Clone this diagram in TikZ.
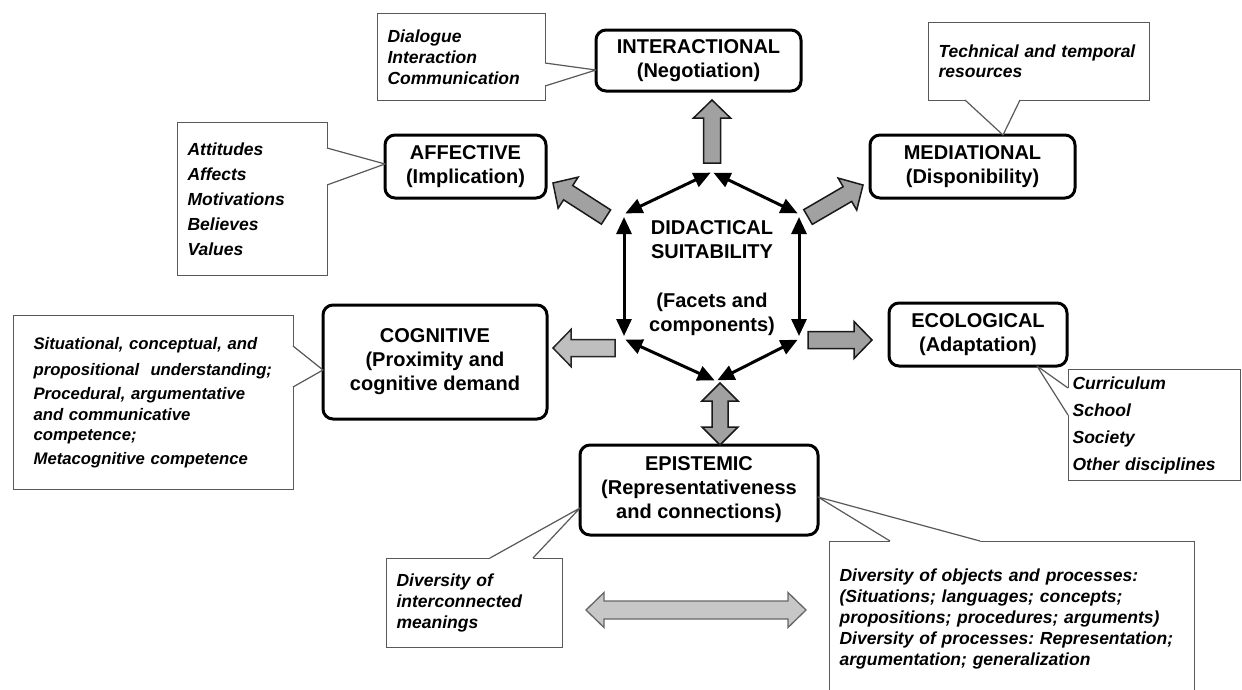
\documentclass[tikz,border=0pt]{standalone}
\usepackage{fontspec}
\setmainfont{Liberation Sans}
\usetikzlibrary{arrows.meta,calc}
\newcommand\blockarrow[4]{% tail coordinate, angle, length, style
  \begin{scope}[shift={(#1)},rotate=#2]
    \draw[#4] (0,-8.5) -- ({#3-18},-8.5) -- ({#3-18},-18.5) -- (#3,0) -- ({#3-18},18.5) -- ({#3-18},8.5) -- (0,8.5) -- cycle;
  \end{scope}}
\newcommand\dblblockarrow[6]{% centre coordinate, angle, half length, shaft half, head half, style
  \begin{scope}[shift={(#1)},rotate=#2]
    \draw[#6] (-#3,0) -- ({-#3+18},-#5) -- ({-#3+18},-#4) -- ({#3-18},-#4) -- ({#3-18},-#5) -- (#3,0) -- ({#3-18},#5) -- ({#3-18},#4) -- ({-#3+18},#4) -- ({-#3+18},#5) -- cycle;
  \end{scope}}
\newcommand\callptr[4]{% base1, tip, base2, inward shift
  \fill[white] ($(#1)+#4$) -- (#1) -- (#2) -- (#3) -- ($(#3)+#4$) -- cycle;
  \draw[noteline] (#1) -- (#2) -- (#3);}
\begin{document}
\begin{tikzpicture}[x=1pt,y=-1pt,
  facet/.style={draw=black, line width=3pt, rounded corners=10pt, fill=white,
    font=\fontsize{20}{24}\selectfont\bfseries, align=center, inner sep=0pt},
  note/.style={draw=black!65, line width=1.2pt, fill=white, anchor=north west,
    align=left, inner ysep=0pt},
  notefont/.style={font=\fontsize{17.5}{#1}\selectfont\bfseries\itshape\frenchspacing},
  noteline/.style={draw=black!65, line width=1.2pt, line join=round},
  hexarrow/.style={line width=3pt,
    {Triangle[length=17pt,width=15pt]}-{Triangle[length=17pt,width=15pt]},
    shorten <=1.5pt, shorten >=1.5pt},
  darkarrow/.style={draw=black!90, line width=1.5pt, fill=black!37, line join=miter},
  lightarrow/.style={draw=black!85, line width=1.5pt, fill=black!25, line join=miter},
  paleArrow/.style={draw=black!60, line width=1.3pt, fill=black!22, line join=miter},
]
\useasboundingbox (0,0) rectangle (1242,689);
\fill[white] (0,0) rectangle (1242,689);
\clip (0,0) rectangle (1242,689);

% ---------- facet boxes ----------
\node[facet, minimum width=205pt, minimum height=61pt] (inter) at (698.5,60.5) {INTERACTIONAL\\(Negotiation)};
\node[facet, minimum width=161pt, minimum height=63pt] (affect) at (465.5,166.5) {AFFECTIVE\\(Implication)};
\node[facet, minimum width=205pt, minimum height=63pt] (media) at (972.5,166.5) {MEDIATIONAL\\(Disponibility)};
\node[facet, minimum width=224pt, minimum height=114pt] (cogn) at (435,362) {COGNITIVE\\(Proximity and\\cognitive demand};
\node[facet, minimum width=178pt, minimum height=63pt] (ecol) at (978,334.5) {ECOLOGICAL\\(Adaptation)};
\node[facet, minimum width=238pt, minimum height=90pt] (epist) at (699,490) {EPISTEMIC\\(Representativeness\\and connections)};

% ---------- centre ----------
\node[font=\fontsize{20}{23.5}\selectfont\bfseries, align=center] (didact) at (712,278)
  {DIDACTICAL\\SUITABILITY\\[26pt](Facets and\\components)};
\coordinate (hT) at (712,172);
\coordinate (hUL) at (624,214);
\coordinate (hUR) at (799,214);
\coordinate (hLL) at (624,339);
\coordinate (hLR) at (799,339);
\coordinate (hB) at (716,381);
\draw[hexarrow] (hUL) -- (hT);
\draw[hexarrow] (hT) -- (hUR);
\draw[hexarrow, shorten <=3pt, shorten >=3pt] (hUR) -- (hLR);
\draw[hexarrow] (hLR) -- (hB);
\draw[hexarrow] (hB) -- (hLL);
\draw[hexarrow, shorten <=3pt, shorten >=3pt] (hLL) -- (hUL);

% ---------- block arrows ----------
\coordinate (aUp) at (712,163);
\coordinate (aAff) at (606,217);
\coordinate (aMed) at (808,217);
\coordinate (aCog) at (615,348);
\coordinate (aEco) at (808,340);
\coordinate (aEpi) at (720,414);
\coordinate (aBot) at (696,610);
\blockarrow{aUp}{90}{63}{darkarrow}
\blockarrow{aAff}{147.3}{63}{darkarrow}
\blockarrow{aMed}{30.2}{63.6}{darkarrow}
\blockarrow{aCog}{180}{62}{lightarrow}
\blockarrow{aEco}{0}{64}{darkarrow}
\dblblockarrow{aEpi}{90}{31}{8}{18}{darkarrow}
\dblblockarrow{aBot}{0}{110}{9}{17.5}{paleArrow}

% ---------- callouts ----------
\node[note, notefont=21, minimum width=168pt, minimum height=87pt, inner xsep=10pt, text width=148pt] (dial) at (377,13)
  {Dialogue\\Interaction\\Communication};
\coordinate (dB1) at (545,63); \coordinate (dTip) at (596,70); \coordinate (dB2) at (545,86);
\callptr{dB1}{dTip}{dB2}{(-2,0)}

\node[note, notefont=25, minimum width=150pt, minimum height=153pt, inner xsep=10pt, text width=130pt] (attit) at (177,122)
  {Attitudes\\Affects\\Motivations\\Believes\\Values};
\coordinate (fB1) at (327,148); \coordinate (fTip) at (385,164); \coordinate (fB2) at (327,185);
\callptr{fB1}{fTip}{fB2}{(-2,0)}

\node[note, notefont=20, minimum width=221pt, minimum height=78pt, inner xsep=10pt, text width=201pt] (techn) at (928,22)
  {Technical and temporal\\resources};
\coordinate (mB1) at (965,100); \coordinate (mTip) at (1003,135); \coordinate (mB2) at (1020,100);
\callptr{mB1}{mTip}{mB2}{(0,-2)}

\node[note, font=\fontsize{16.7}{20.5}\selectfont\bfseries\itshape\frenchspacing, minimum width=280pt, minimum height=174pt, inner xsep=20pt, text width=240pt] (cognote) at (13,315)
  {Situational, conceptual, and\\[5pt]propositional\ \ understanding;\\[4pt]Procedural, argumentative\\and communicative\\competence;\\[3pt]Metacognitive competence};
\coordinate (cB1) at (293,346); \coordinate (cTip) at (323,370); \coordinate (cB2) at (293,387);
\callptr{cB1}{cTip}{cB2}{(-2,0)}

\node[note, notefont=27, minimum width=172pt, minimum height=111pt, inner xsep=4pt, text width=164pt] (curric) at (1068,369)
  {Curriculum\\School\\Society\\Other disciplines};
\coordinate (eB1) at (1068,388); \coordinate (eTip) at (1037,366); \coordinate (eB2) at (1068,415);
\callptr{eB1}{eTip}{eB2}{(2,0)}

\node[note, notefont=21, minimum width=176pt, minimum height=89pt, inner xsep=10pt, text width=156pt] (mean) at (386,558)
  {Diversity of\\interconnected\\meanings};
\coordinate (pB1) at (490,558); \coordinate (pTip) at (580,508); \coordinate (pB2) at (533,558);
\callptr{pB1}{pTip}{pB2}{(0,2)}

\node[note, notefont=21, minimum width=365pt, minimum height=155pt, inner xsep=10pt, text width=345pt] (objects) at (829,541)
  {Diversity of objects and processes:\\(Situations; languages; concepts;\\propositions; procedures; arguments)\\Diversity of processes: Representation;\\argumentation; generalization};
\coordinate (qB1) at (890,541); \coordinate (qTip) at (818,497); \coordinate (qB2) at (980,541);
\callptr{qB1}{qTip}{qB2}{(0,2)}
\end{tikzpicture}
\end{document}
